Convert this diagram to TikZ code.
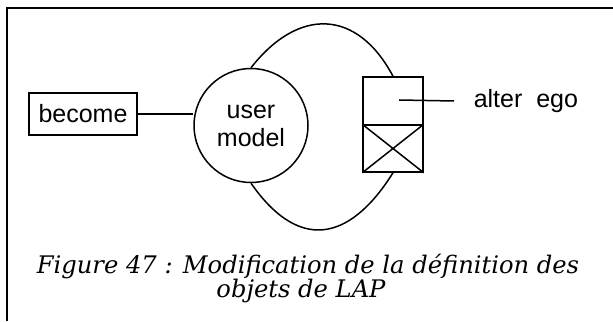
\documentclass[tikz,border=0pt]{standalone}
\usepackage{fontspec}
\newfontfamily\plotfont{Liberation Sans}
\newfontfamily\capfont{DejaVu Serif}
\begin{document}
\begin{tikzpicture}[x=0.5pt, y=0.5pt, line width=0.75pt,
        lbl/.style={font=\plotfont\fontsize{12.5}{14}\selectfont},
        cell/.style={draw, minimum width=30pt, inner sep=0pt},
        capline/.style={anchor=base, inner sep=0pt, font=\capfont\itshape\fontsize{12.1}{12}\selectfont}]
    \useasboundingbox (0,0) rectangle (613,321);
    \draw[line width=1pt] (7,0) -- (7,313) -- (613,313);              % frame
    \node[lbl, draw, minimum width=54pt, minimum height=21pt, inner sep=0pt] (become) at (83,207) {become};
    \node[lbl, draw, circle, minimum size=57pt, inner sep=0pt, align=center] (um) at (251,195.5) {user\\model};
    \node[cell, minimum height=24pt] (slot) at (393,220) {};
    \node[cell, minimum height=23.5pt] (hidden) at (393,172.5) {};
    \draw (hidden.north west) -- (hidden.south east)
          (hidden.south west) -- (hidden.north east);
    \node[lbl, anchor=west, inner sep=0pt] (ego) at (473,220) {alter\ \ ego};
    \coordinate (slotin) at (399,221);
    \draw (slotin) -- ([xshift=-9.5pt]ego.west);
    \draw (become.east) -- (become.east -| um.west);
    \draw (um.north) to[out=52, in=118, looseness=1.38] (slot.north);   % upper loop
    \draw (um.south) to[out=-55, in=-122, out looseness=1.65, in looseness=1.3] (hidden.south); % lower loop
    \node[capline] (cap1) at (308,48) {Figure 47 : Modification de la définition des};
    \node[capline] (cap2) at (301,24) {objets de LAP};
\end{tikzpicture}
\end{document}
